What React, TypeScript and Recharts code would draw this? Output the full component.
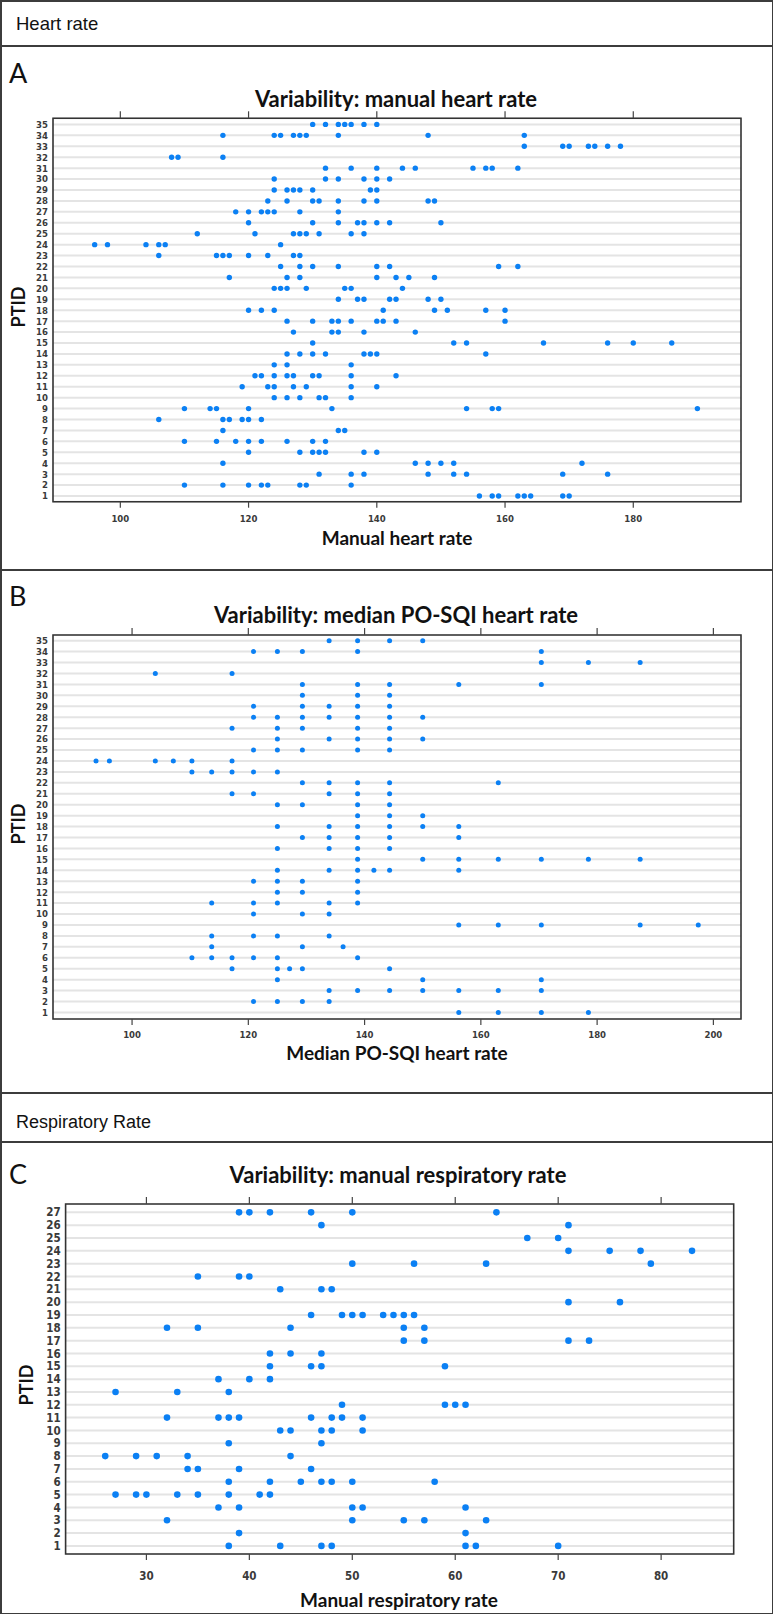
import React from "react";
import { ScatterChart, Scatter, XAxis, YAxis, CartesianGrid, ReferenceArea } from "recharts";

// one row per PTID, starting at PTID 1
const manualHrByPtid: number[][] = [
  [156, 158, 159, 162, 163, 164, 169, 170],
  [110, 116, 120, 122, 123, 128, 129, 136],
  [131, 136, 138, 148, 152, 154, 169, 176],
  [116, 146, 148, 150, 152, 172],
  [120, 128, 130, 131, 132, 138, 140],
  [110, 115, 118, 120, 122, 126, 130, 132],
  [116, 134, 135],
  [106, 116, 117, 119, 120, 122],
  [110, 114, 115, 120, 133, 154, 158, 159, 190],
  [124, 126, 128, 131, 132, 136],
  [119, 123, 124, 127, 129, 136, 140],
  [121, 122, 124, 126, 127, 130, 131, 136, 143],
  [124, 126, 136],
  [126, 128, 130, 132, 138, 139, 140, 157],
  [130, 152, 154, 166, 176, 180, 186],
  [127, 133, 134, 138, 146],
  [126, 130, 133, 134, 136, 140, 141, 143, 160],
  [120, 122, 124, 141, 149, 151, 157, 160],
  [134, 137, 138, 142, 143, 148, 150],
  [124, 125, 126, 129, 135, 136, 144],
  [117, 126, 128, 140, 143, 145, 149],
  [125, 128, 130, 134, 140, 142, 159, 162],
  [106, 115, 116, 117, 120, 123, 127, 128],
  [96, 98, 104, 106, 107, 125],
  [112, 121, 127, 128, 129, 131, 136, 138],
  [120, 130, 134, 137, 138, 140, 142, 150],
  [118, 120, 122, 123, 124, 128, 134],
  [123, 126, 130, 131, 134, 138, 140, 148, 149],
  [124, 126, 127, 128, 130, 139, 140],
  [124, 132, 134, 138, 140, 142],
  [132, 136, 140, 144, 146, 155, 157, 158, 162],
  [108, 109, 116],
  [163, 169, 170, 173, 174, 176, 178],
  [116, 124, 125, 127, 128, 129, 134, 148, 163],
  [130, 132, 134, 135, 136, 138, 140],
];

const poSqiHrByPtid: number[][] = [
  [156.2, 163, 170.4, 178.5],
  [120.9, 125, 129.3, 133.9],
  [133.9, 138.8, 144.3, 150, 156.2, 163, 170.4],
  [125, 150, 170.4],
  [117.2, 125, 127.1, 129.3, 144.3],
  [110.3, 113.7, 117.2, 120.9, 125, 138.8],
  [113.7, 129.3, 136.3],
  [113.7, 120.9, 125, 133.9],
  [156.2, 163, 170.4, 187.4, 197.4],
  [120.9, 129.3, 133.9],
  [113.7, 120.9, 125, 133.9, 138.8],
  [125, 129.3, 138.8],
  [120.9, 125, 129.3, 138.8],
  [125, 133.9, 138.8, 141.6, 144.3, 156.2],
  [138.8, 150, 156.2, 163, 170.4, 178.5, 187.4],
  [125, 133.9, 138.8, 144.3],
  [129.3, 133.9, 138.8, 144.3, 156.2],
  [125, 133.9, 138.8, 144.3, 150, 156.2],
  [138.8, 144.3, 150],
  [125, 129.3, 138.8, 144.3],
  [117.2, 120.9, 133.9, 138.8, 144.3],
  [129.3, 133.9, 138.8, 144.3, 163],
  [110.3, 113.7, 117.2, 120.9, 125],
  [93.8, 96.1, 104, 107.1, 110.3, 117.2],
  [120.9, 125, 129.3, 138.8, 144.3],
  [125, 133.9, 138.8, 144.3, 150],
  [117.2, 125, 129.3, 138.8, 144.3],
  [120.9, 125, 129.3, 133.9, 138.8, 144.3, 150],
  [120.9, 129.3, 133.9, 138.8, 144.3],
  [129.3, 138.8, 144.3],
  [129.3, 138.8, 144.3, 156.2, 170.4],
  [104, 117.2],
  [170.4, 178.5, 187.4],
  [120.9, 125, 129.3, 138.8, 170.4],
  [133.9, 138.8, 144.3, 150],
];

const manualRrByPtid: number[][] = [
  [38, 43, 47, 48, 61, 62, 70],
  [39, 61],
  [32, 50, 55, 57, 63],
  [37, 39, 50, 51, 61],
  [27, 29, 30, 33, 35, 38, 41, 42],
  [38, 42, 45, 47, 48, 50, 58],
  [34, 35, 39, 46],
  [26, 29, 31, 34, 44],
  [38, 47],
  [43, 44, 47, 48, 51],
  [32, 37, 38, 39, 46, 48, 49, 51],
  [49, 59, 60, 61],
  [27, 33, 38],
  [37, 40, 42],
  [42, 46, 47, 59],
  [42, 44, 47],
  [55, 57, 71, 73],
  [32, 35, 44, 55, 57],
  [46, 49, 50, 51, 53, 54, 55, 56],
  [71, 76],
  [43, 47, 48],
  [35, 39, 40],
  [50, 56, 63, 79],
  [71, 75, 78, 83],
  [67, 70],
  [47, 71],
  [39, 40, 42, 46, 50, 64],
];

const hrTicksA = [100, 120, 140, 160, 180];
const hrTicksB = [100, 120, 140, 160, 180, 200];
const rrTicks = [30, 40, 50, 60, 70, 80];

const PAGE_W = 773;
const BLUE = "#0b80f4";
const FRAME = "#333";
const BORDER = "#3c3c3c";
const TITLE_FONT = "Lato, 'Open Sans', sans-serif";
const TICK_FONT = "'DejaVu Sans Condensed', 'DejaVu Sans', sans-serif";

type Pt = { x: number; ptid: number };

const toPoints = (rows: number[][]): Pt[] =>
  rows.flatMap((vals, i) => vals.map((x) => ({ x, ptid: i + 1 })));

const ptidTicks = (rows: number[][]) => rows.map((_, i) => i + 1);

type PanelProps = {
  top: number;
  height: number;
  plotTop: number;
  plotBottom: number;
  plotLeft: number;
  plotRight: number;
  rows: number[][];
  xDomain: [number, number];
  yDomain: [number, number];
  xTicks: number[];
  tickFont: number;
  xTickMargin: number;
  dotR: number;
};

function DotPlot(p: PanelProps) {
  const h = p.height;
  const pts = toPoints(p.rows);
  const dot = (props: any) => <circle cx={props.cx} cy={props.cy} r={p.dotR} fill={BLUE} />;
  // bottom label plus the matching tick mark on top of the frame
  const xTick = (props: any) => (
    <g>
      <line x1={props.x} x2={props.x} y1={p.plotTop - 7} y2={p.plotTop} stroke="#444" strokeWidth={1.2} />
      <text
        x={props.x}
        y={props.y}
        dy="0.71em"
        textAnchor="middle"
        fontSize={p.tickFont}
        fontWeight={700}
        fontFamily={TICK_FONT}
        fill="#3a3a3a"
      >
        {props.payload.value}
      </text>
    </g>
  );
  return (
    <div style={{ position: "absolute", left: 0, top: p.top, width: PAGE_W, height: h }}>
      <ScatterChart
        width={PAGE_W}
        height={h}
        margin={{ top: p.plotTop, right: PAGE_W - p.plotRight, bottom: 0, left: 0 }}
      >
        <CartesianGrid vertical={false} stroke="#e4e4e4" strokeWidth={2} />
        <XAxis
          type="number"
          dataKey="x"
          domain={p.xDomain}
          allowDataOverflow
          ticks={p.xTicks}
          interval={0}
          axisLine={false}
          tickLine={{ stroke: "#444", strokeWidth: 1.2 }}
          tickSize={6}
          tickMargin={p.xTickMargin}
          height={h - p.plotBottom}
          tick={xTick}
        />
        <YAxis
          type="number"
          dataKey="ptid"
          domain={p.yDomain}
          allowDataOverflow
          ticks={ptidTicks(p.rows)}
          interval={0}
          width={p.plotLeft}
          axisLine={false}
          tickLine={false}
          tickSize={0}
          tickMargin={5}
          tick={{ fontSize: p.tickFont, fill: "#3a3a3a", fontFamily: TICK_FONT, fontWeight: 700 }}
        />
        <ReferenceArea
          x1={p.xDomain[0]}
          x2={p.xDomain[1]}
          y1={p.yDomain[0]}
          y2={p.yDomain[1]}
          fill="none"
          fillOpacity={0}
          stroke={FRAME}
          strokeWidth={1.6}
          ifOverflow="visible"
        />
        <Scatter data={pts} fill={BLUE} isAnimationActive={false} shape={dot} />
      </ScatterChart>
    </div>
  );
}

function Txt({ x, y, size, weight, children, center, rotate, family }: any) {
  return (
    <div
      style={{
        position: "absolute",
        left: x,
        top: y,
        transform: `translate(${center ? "-50%" : "0"}, -50%)${rotate ? " rotate(-90deg)" : ""}`,
        fontSize: size,
        fontWeight: weight || 400,
        fontFamily: family || TITLE_FONT,
        color: "#111",
        whiteSpace: "nowrap",
        lineHeight: 1,
      }}
    >
      {children}
    </div>
  );
}

function HLine({ y }: { y: number }) {
  return <div style={{ position: "absolute", left: 0, top: y, width: PAGE_W - 1, height: 2, background: BORDER }} />;
}

export default function App() {
  return (
    <div style={{ position: "relative", width: PAGE_W, height: 1614, background: "#fff", overflow: "hidden" }}>
      <style>{`body{margin:0}`}</style>

      <DotPlot
        top={46}
        height={524}
        plotTop={72.3}
        plotBottom={455.7}
        plotLeft={53}
        plotRight={741}
        rows={manualHrByPtid}
        xDomain={[89.5, 196.8]}
        yDomain={[0.48, 35.56]}
        xTicks={hrTicksA}
        tickFont={9.5}
        xTickMargin={8}
        dotR={2.7}
      />
      <DotPlot
        top={570}
        height={523}
        plotTop={65}
        plotBottom={449}
        plotLeft={53}
        plotRight={741}
        rows={poSqiHrByPtid}
        xDomain={[86.4, 204.75]}
        yDomain={[0.4, 35.52]}
        xTicks={hrTicksB}
        tickFont={9.5}
        xTickMargin={6.5}
        dotR={2.5}
      />
      <DotPlot
        top={1142}
        height={471}
        plotTop={62}
        plotBottom={412}
        plotLeft={65.6}
        plotRight={733.7}
        rows={manualRrByPtid}
        xDomain={[22.15, 87.05]}
        yDomain={[0.37, 27.65]}
        xTicks={rrTicks}
        tickFont={11.5}
        xTickMargin={11.5}
        dotR={3.3}
      />

      {/* table borders */}
      <div style={{ position: "absolute", left: 0, top: 0, width: PAGE_W - 3, height: 1611, border: `2px solid ${BORDER}`, boxSizing: "content-box" }} />
      <HLine y={45} />
      <HLine y={569} />
      <HLine y={1092} />
      <HLine y={1141} />

      <Txt x={16} y={24} size={18.5} family="'Liberation Sans', Arial, sans-serif">Heart rate</Txt>
      <Txt x={16} y={1122} size={18} family="'Liberation Sans', Arial, sans-serif">Respiratory Rate</Txt>

      <Txt x={9} y={72} size={27}>A</Txt>
      <Txt x={9} y={595} size={27}>B</Txt>
      <Txt x={9} y={1173} size={27}>C</Txt>

      <Txt x={396} y={99} size={22} weight={700} center>Variability: manual heart rate</Txt>
      <Txt x={396} y={615} size={22} weight={700} center>Variability: median PO-SQI heart rate</Txt>
      <Txt x={398} y={1175} size={22} weight={700} center>Variability: manual respiratory rate</Txt>

      <Txt x={397} y={537} size={19} weight={700} center>Manual heart rate</Txt>
      <Txt x={397} y={1052} size={19} weight={700} center>Median PO-SQI heart rate</Txt>
      <Txt x={399} y={1599} size={19} weight={700} center>Manual respiratory rate</Txt>

      <Txt x={18} y={307} size={18} weight={700} center rotate>PTID</Txt>
      <Txt x={18} y={824} size={18} weight={700} center rotate>PTID</Txt>
      <Txt x={26} y={1385} size={18} weight={700} center rotate>PTID</Txt>
    </div>
  );
}
